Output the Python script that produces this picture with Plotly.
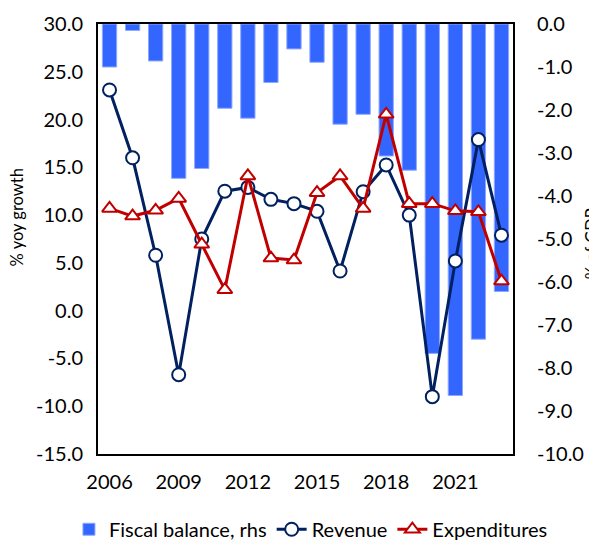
import plotly.graph_objects as go

years = list(range(2006, 2024))
fiscal_balance = [-1.0, -0.15, -0.86, -3.59, -3.36, -1.96, -2.19, -1.36, -0.58, -0.89,
                  -2.33, -2.10, -3.07, -3.40, -7.66, -8.64, -7.33, -6.22]
revenue = [23.1, 16.0, 5.8, -6.7, 7.5, 12.5, 12.9, 11.65, 11.2, 10.4,
           4.15, 12.45, 15.25, 10.0, -9.0, 5.2, 17.9, 7.9]
expenditures = [10.7, 9.9, 10.5, 11.75, 6.95, 2.2, 14.1, 5.5, 5.3, 12.35,
                14.1, 10.7, 20.55, 11.2, 11.2, 10.45, 10.35, 3.1]

left_ticks = [30, 25, 20, 15, 10, 5, 0, -5, -10, -15]
right_ticks = [0, -1, -2, -3, -4, -5, -6, -7, -8, -9, -10]
x_ticks = [2006, 2009, 2012, 2015, 2018, 2021]

FONT = "Lato"
fig = go.Figure()
# bars on primary axis (right side) so that lines on overlaying axis draw on top
fig.add_trace(go.Bar(x=years, y=fiscal_balance, name="Fiscal balance, rhs", yaxis="y",
                     marker=dict(color="#3366FF", line=dict(color="#8FA8FF", width=1)),
                     width=0.62))
fig.add_trace(go.Scatter(x=years, y=revenue, name="Revenue", mode="lines+markers",
                         yaxis="y2",
                         line=dict(color="#002060", width=3),
                         marker=dict(symbol="circle", size=13, color="white",
                                     line=dict(color="#002060", width=2))))
fig.add_trace(go.Scatter(x=years, y=expenditures, name="Expenditures", mode="lines+markers",
                         yaxis="y2",
                         line=dict(color="#C00000", width=3),
                         marker=dict(symbol="triangle-up", size=13, color="white",
                                     line=dict(color="#C00000", width=2))))

fig.update_layout(
    width=589, height=532,
    margin=dict(l=90, r=84, t=16, b=86, autoexpand=False),
    plot_bgcolor="white", paper_bgcolor="white",
    font=dict(family=FONT, size=20, color="black"),
    showlegend=True,
    legend=dict(orientation="h", x=-0.07, xanchor="left", y=-0.175, yanchor="middle",
                font=dict(size=20), traceorder="normal", tracegroupgap=0,
                itemwidth=30, bgcolor="rgba(0,0,0,0)"),
    xaxis=dict(range=[2005.5, 2023.5], tickvals=x_ticks,
               showgrid=False, showline=True, linecolor="black", linewidth=2,
               mirror=True, ticks="", zeroline=False, ticklabelstandoff=9),
    yaxis=dict(range=[-10, 0], tickvals=right_ticks,
               ticktext=[f"{v:.1f}" for v in right_ticks],
               side="right", showgrid=False, showline=True, linecolor="black",
               linewidth=2, mirror=True,
               ticks="", zeroline=False, ticklabelstandoff=18),
    yaxis2=dict(range=[-15, 30], tickvals=left_ticks,
                ticktext=[f"{v:.1f}" for v in left_ticks],
                overlaying="y", side="left", showgrid=False, showline=False,
                ticks="", zeroline=False, ticklabelstandoff=14),
    annotations=[
        dict(text="% yoy growth", x=-0.193, y=0.55, xref="paper", yref="paper",
             xanchor="center", yanchor="middle",
             textangle=-90, showarrow=False, font=dict(size=16.5)),
        dict(text="% of GDP", x=1.19, y=0.49, xref="paper", yref="paper",
             xanchor="center", yanchor="middle",
             textangle=-90, showarrow=False, font=dict(size=16.5)),
    ],
)
fig.write_html("out.html")
